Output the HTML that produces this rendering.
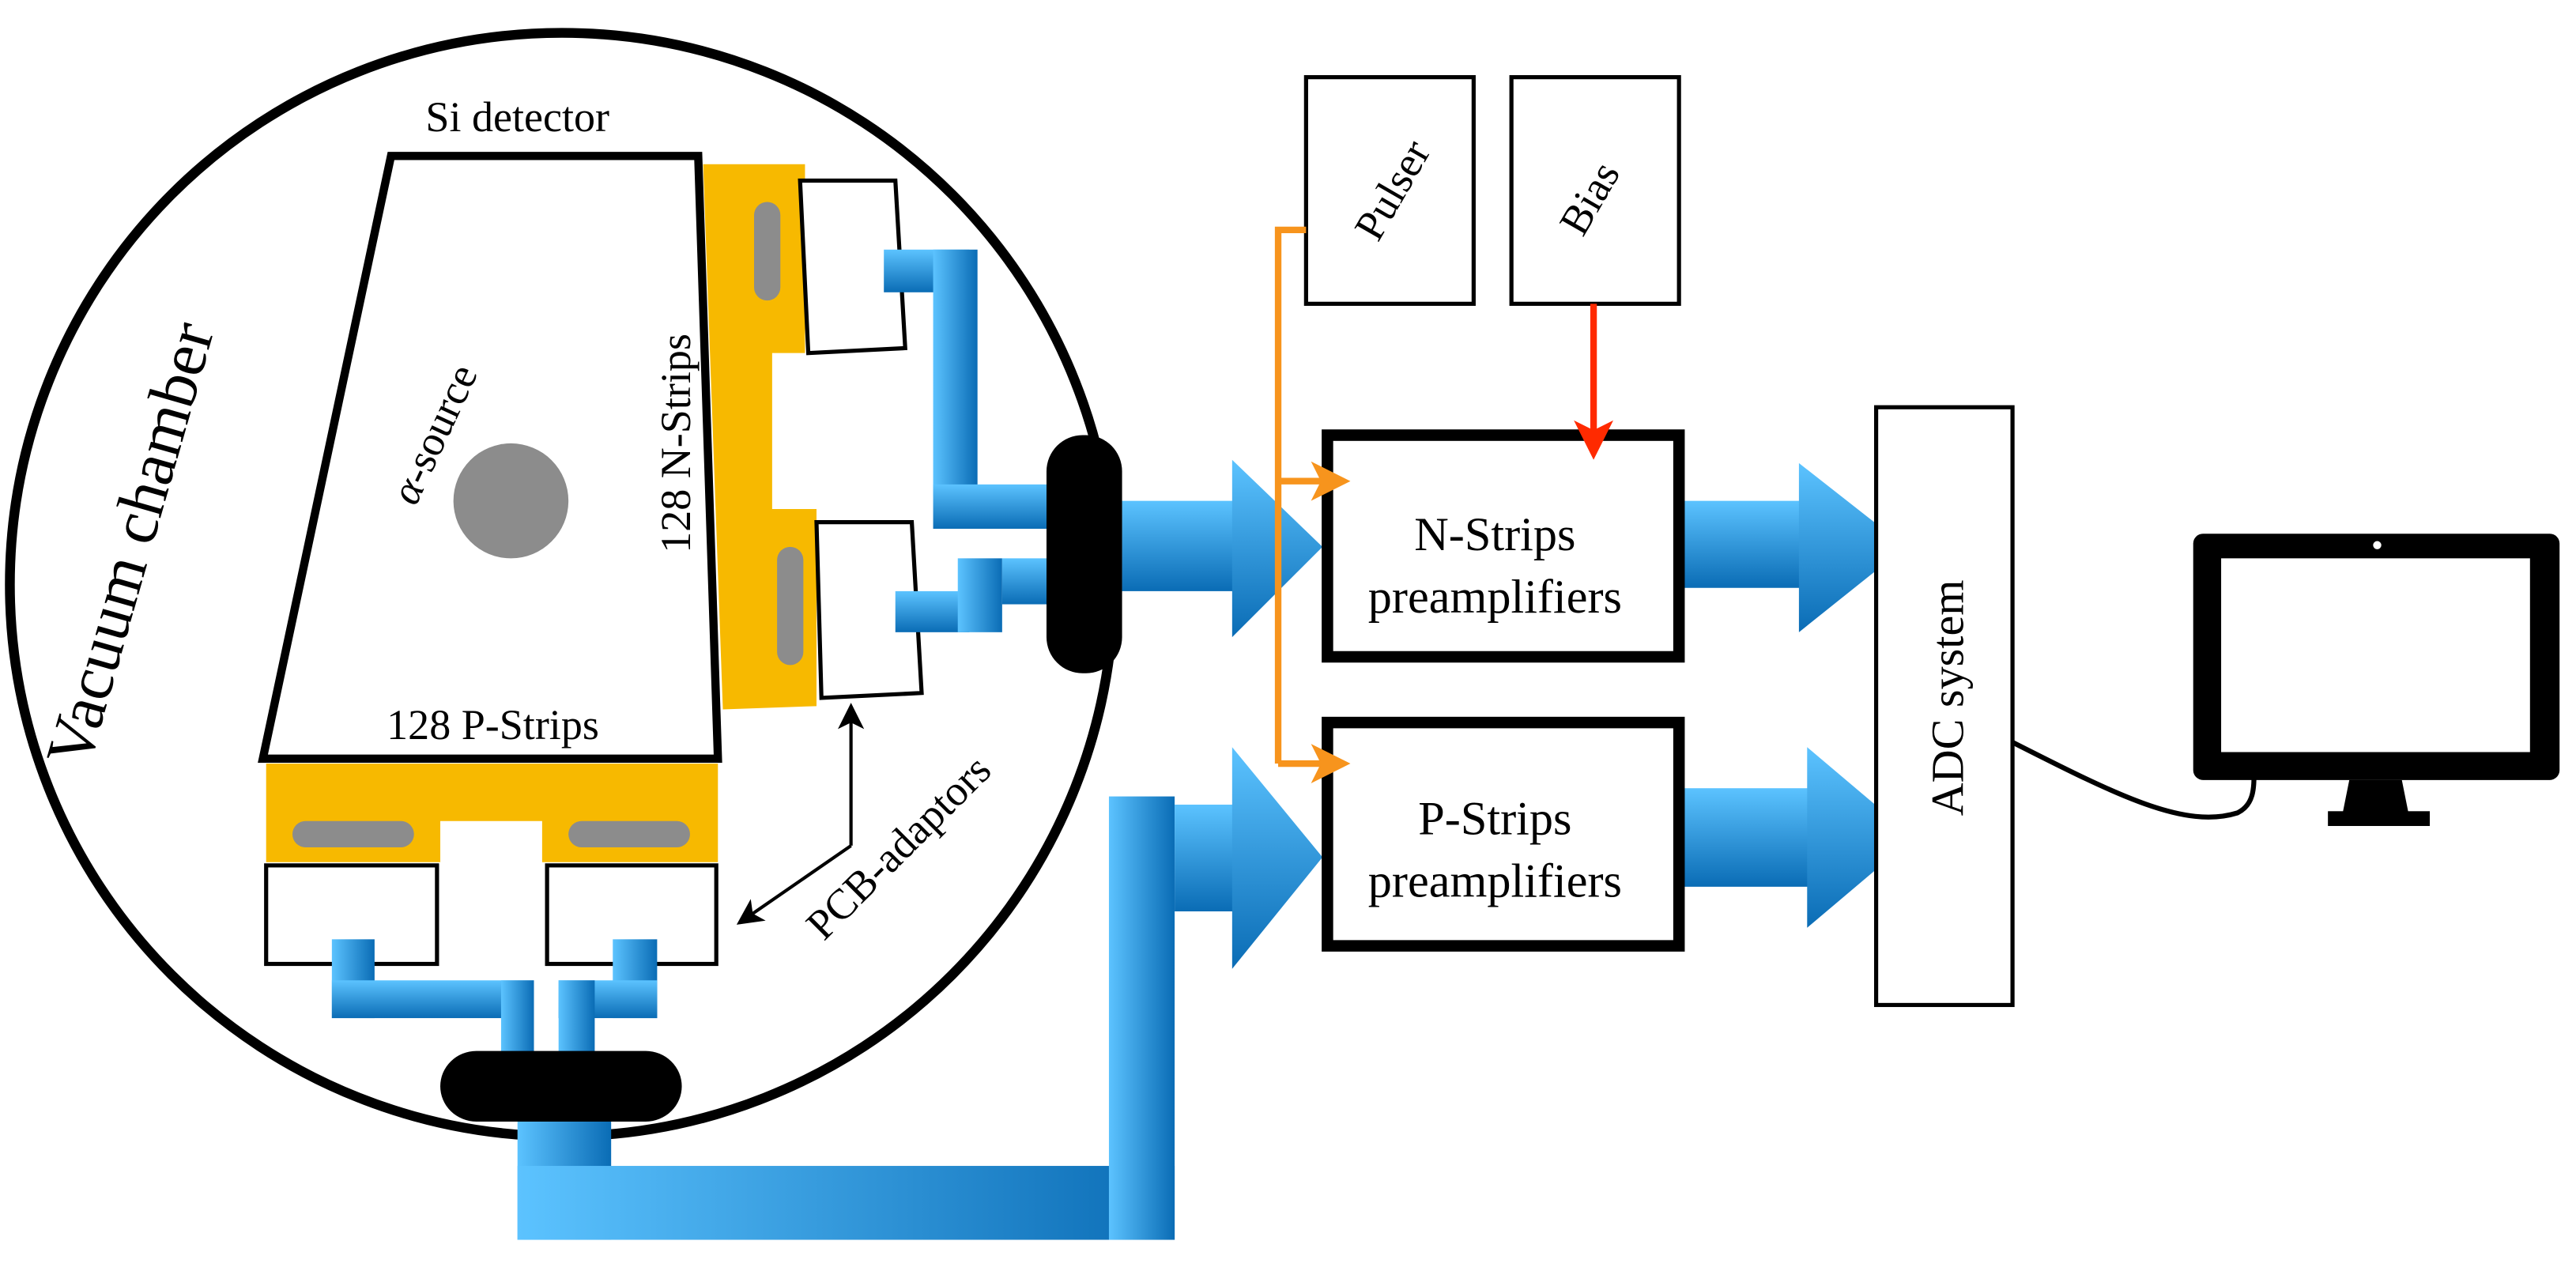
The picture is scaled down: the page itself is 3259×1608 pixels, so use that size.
<!DOCTYPE html>
<html><head><meta charset="utf-8"><style>
html,body{margin:0;padding:0;background:#fff;}
svg{display:block;}
text{font-family:"Liberation Serif",serif;fill:#000;}
</style></head><body>
<svg width="3259" height="1608" viewBox="0 0 1568 774" preserveAspectRatio="none" xmlns="http://www.w3.org/2000/svg">
<defs>
<linearGradient id="g" x1="0" y1="0" x2="1" y2="0"><stop offset="0" stop-color="#5cc3ff"/><stop offset="1" stop-color="#0a6cb5"/></linearGradient>
<linearGradient id="gv" x1="0" y1="0" x2="0" y2="1"><stop offset="0" stop-color="#5cc3ff"/><stop offset="1" stop-color="#0a6cb5"/></linearGradient>
<marker id="ao" markerWidth="6" markerHeight="6" refX="5" refY="3" orient="auto" markerUnits="strokeWidth"><path d="M0,0 L6,3 L0,6 L1.5,3 z" fill="#f7941d"/></marker>
<marker id="ar" markerWidth="6" markerHeight="6" refX="5" refY="3" orient="auto" markerUnits="strokeWidth"><path d="M0,0 L6,3 L0,6 L1.5,3 z" fill="#ff2a00"/></marker>
<marker id="ak" markerWidth="8" markerHeight="8" refX="7" refY="4" orient="auto" markerUnits="strokeWidth"><path d="M0,0 L8,4 L0,8 L2,4 z" fill="#000"/></marker>
</defs>

<circle cx="342" cy="356" r="336" fill="#fff" stroke="#000" stroke-width="6"/>
<text x="0" y="0" font-size="40" transform="translate(92,335) rotate(-74)" text-anchor="middle">Vacuum chamber</text>

<path d="M428,100 L490,100 L490,215 L470,215 L470,310 L497,310 L497,430 L440,432 Z" fill="#f7b900"/>
<path d="M162,465 L437,465 L437,525 L330,525 L330,500 L268,500 L268,525 L162,525 Z" fill="#f7b900"/>
<rect x="459" y="123" width="16" height="60" rx="8" fill="#8c8c8c"/>
<rect x="473" y="333" width="16" height="72" rx="8" fill="#8c8c8c"/>
<rect x="178" y="500" width="74" height="16" rx="8" fill="#8c8c8c"/>
<rect x="346" y="500" width="74" height="16" rx="8" fill="#8c8c8c"/>

<polygon points="238,95 425,95 437,462 160,462" fill="#fff" stroke="#000" stroke-width="5"/>
<text x="315" y="80" font-size="26" text-anchor="middle">Si detector</text>
<text x="300" y="450" font-size="26" text-anchor="middle">128 P-Strips</text>
<text x="0" y="0" font-size="26" text-anchor="middle" transform="translate(420,270) rotate(-90)">128 N-Strips</text>
<text x="0" y="0" font-size="26" text-anchor="middle" transform="translate(272,268) rotate(-65)"><tspan font-style="italic">α</tspan>-source</text>
<circle cx="311" cy="305" r="35" fill="#8c8c8c"/>

<polygon points="487,110 545,110 551,212 492,215" fill="#fff" stroke="#000" stroke-width="2.5"/>
<polygon points="497,318 555,318 561,422 500,425" fill="#fff" stroke="#000" stroke-width="2.5"/>
<rect x="162" y="527" width="104" height="60" fill="#fff" stroke="#000" stroke-width="2.5"/>
<rect x="333" y="527" width="103" height="60" fill="#fff" stroke="#000" stroke-width="2.5"/>

<rect x="538" y="152" width="52" height="26" fill="url(#gv)"/>
<rect x="568" y="152" width="27" height="150" fill="url(#g)"/>
<rect x="568" y="295" width="77" height="27" fill="url(#gv)"/>
<rect x="545" y="360" width="45" height="25" fill="url(#gv)"/>
<rect x="583" y="340" width="27" height="45" fill="url(#g)"/>
<rect x="610" y="340" width="35" height="28" fill="url(#gv)"/>
<rect x="202" y="572" width="26" height="48" fill="url(#g)"/>
<rect x="202" y="597" width="123" height="23" fill="url(#gv)"/>
<rect x="305" y="597" width="20" height="45" fill="url(#g)"/>
<rect x="373" y="572" width="27" height="48" fill="url(#g)"/>
<rect x="340" y="597" width="60" height="23" fill="url(#gv)"/>
<rect x="340" y="597" width="22" height="45" fill="url(#g)"/>

<rect x="315" y="680" width="57" height="75" fill="url(#g)"/>
<rect x="315" y="710" width="400" height="45" fill="url(#g)"/>
<rect x="675" y="485" width="40" height="270" fill="url(#g)"/>
<rect x="715" y="490" width="45" height="65" fill="url(#gv)"/>
<polygon points="750,455 805,522 750,590" fill="url(#gv)"/>
<rect x="683" y="305" width="77" height="55" fill="url(#gv)"/>
<polygon points="750,280 805,333 750,388" fill="url(#gv)"/>
<rect x="1025" y="305" width="75" height="53" fill="url(#gv)"/>
<polygon points="1095,282 1160,333 1095,385" fill="url(#gv)"/>
<rect x="1025" y="480" width="80" height="60" fill="url(#gv)"/>
<polygon points="1100,455 1165,510 1100,565" fill="url(#gv)"/>

<rect x="268" y="640" width="147" height="43" rx="22" fill="#000"/>
<rect x="637" y="265" width="46" height="145" rx="22" fill="#000"/>

<text x="0" y="0" font-size="26" text-anchor="middle" transform="translate(553,522) rotate(-45)">PCB-adaptors</text>
<line x1="518" y1="515" x2="518" y2="430" stroke="#000" stroke-width="2" marker-end="url(#ak)"/>
<line x1="518" y1="515" x2="450" y2="562" stroke="#000" stroke-width="2" marker-end="url(#ak)"/>

<rect x="808" y="265" width="214" height="135" fill="#fff" stroke="#000" stroke-width="7"/>
<rect x="808" y="440" width="214" height="136" fill="#fff" stroke="#000" stroke-width="7"/>
<text x="910" y="335" font-size="29" text-anchor="middle">N-Strips</text>
<text x="910" y="373" font-size="29" text-anchor="middle">preamplifiers</text>
<text x="910" y="508" font-size="29" text-anchor="middle">P-Strips</text>
<text x="910" y="546" font-size="29" text-anchor="middle">preamplifiers</text>

<rect x="795" y="47" width="102" height="138" fill="#fff" stroke="#000" stroke-width="2.5"/>
<rect x="920" y="47" width="102" height="138" fill="#fff" stroke="#000" stroke-width="2.5"/>
<text x="0" y="0" font-size="26" text-anchor="middle" transform="translate(855,120) rotate(-60)">Pulser</text>
<text x="0" y="0" font-size="26" text-anchor="middle" transform="translate(975,125) rotate(-60)">Bias</text>
<polyline points="795,140 778,140 778,465" fill="none" stroke="#f7941d" stroke-width="4"/>
<line x1="778" y1="293" x2="818" y2="293" stroke="#f7941d" stroke-width="4" marker-end="url(#ao)"/>
<line x1="778" y1="465" x2="818" y2="465" stroke="#f7941d" stroke-width="4" marker-end="url(#ao)"/>
<line x1="970" y1="185" x2="970" y2="276" stroke="#ff2a00" stroke-width="4" marker-end="url(#ar)"/>

<rect x="1142" y="248" width="83" height="364" fill="#fff" stroke="#000" stroke-width="2.5"/>
<text x="0" y="0" font-size="28" text-anchor="middle" transform="translate(1195,425) rotate(-90)">ADC system</text>
<path d="M1225,452 C1290,485 1330,505 1362,495 C1372,490 1372,480 1372,470" fill="none" stroke="#000" stroke-width="3"/>

<rect x="1335" y="325" width="223" height="150" rx="6" fill="#000"/>
<rect x="1352" y="340" width="188" height="118" fill="#fff"/>
<circle cx="1447" cy="332" r="2.5" fill="#fff"/>
<polygon points="1430,475 1462,475 1466,495 1426,495" fill="#000"/>
<rect x="1417" y="494" width="62" height="9" fill="#000"/>
</svg>
</body></html>
